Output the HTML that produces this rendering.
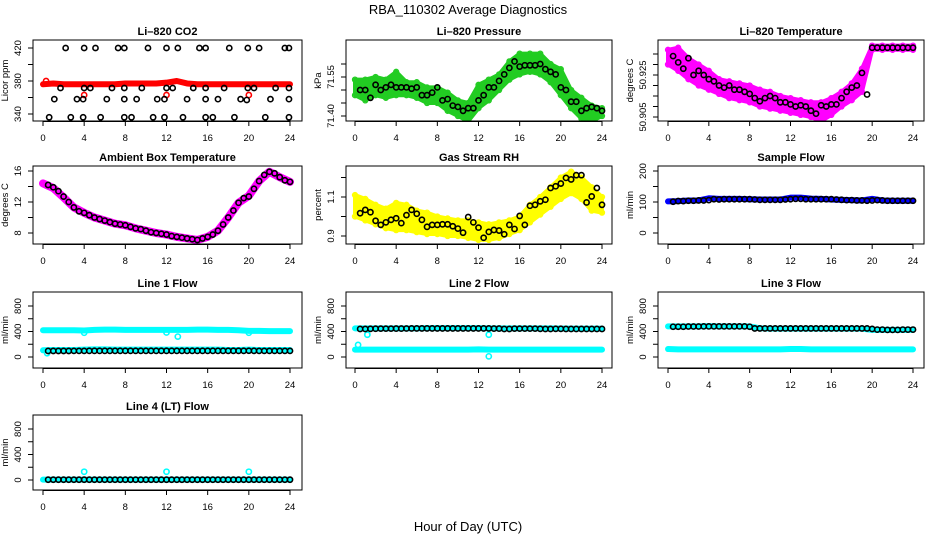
<!DOCTYPE html>
<html><head><meta charset="utf-8">
<style>
html,body{margin:0;padding:0;background:#fff;}
svg{display:block;font-family:"Liberation Sans",Arial,sans-serif;}
</style></head>
<body>
<svg id="chart" width="936" height="540" viewBox="0 0 936 540" xmlns="http://www.w3.org/2000/svg">
<text x="468" y="14" text-anchor="middle" font-size="13">RBA_110302  Average Diagnostics</text>
<text x="468" y="531" text-anchor="middle" font-size="13">Hour of Day (UTC)</text>
</svg>
<script>
// ---------------- data ----------------
const xTicks = [0,4,8,12,16,20,24];
const hourly = [0,1,2,3,4,5,6,7,8,9,10,11,12,13,14,15,16,17,18,19,20,21,22,23,24];
const halfHours = Array.from({length:48},(_, i)=>0.5*(i+1));

// CO2
const co2BlackX = [2.2,4,5.1,7.3,7.9,10.2,12,13.1,15.2,15.8,18.1,19.9,21,23.5,23.9,
 1.7,4,4.6,6.7,7.9,9.6,12,12.6,14.6,15.8,17.6,19.9,20.5,22.6,23.9,
 1.1,3.3,3.9,6.2,7.9,9.1,11.1,11.8,14.0,15.8,17.0,19.2,19.8,22.1,23.9,
 0.6,2.7,3.9,5.6,7.9,8.6,10.7,11.8,13.6,15.8,16.5,18.6,21.6,23.9];
const co2BlackY = [420,420,420,420,420,420,420,420,420,420,420,420,420,420,420,
 371.5,371.5,371.5,371.5,371.5,371.5,371.5,371.5,371.5,371.5,371.5,371.5,371.5,371.5,371.5,
 358,358,358,358,358,358,358,358,358,358,358,358,357,358,358,
 336,336,336,336,336,336,336,336,336,336,336,336,336,336];
const co2Red = [376,377,376,376,376,376,376,376,377,377,377,377,378,380,377,376,376,376,376,376,376,376,376,376,376];
const co2RedOutX = [0.3,4,12,20];
const co2RedOutY = [380,363,363,363];

// Pressure
const presBlack = [71.50,71.50,71.47,71.52,71.50,71.51,71.52,71.51,71.51,71.51,71.505,71.51,71.48,71.48,71.49,71.51,
 71.46,71.465,71.44,71.435,71.42,71.43,71.43,71.46,71.48,71.51,71.51,71.535,71.56,71.585,71.61,71.59,
 71.595,71.595,71.595,71.60,71.58,71.57,71.56,71.51,71.50,71.455,71.455,71.42,71.43,71.435,71.43,71.42];
const presHi = [71.54,71.54,71.55,71.54,71.57,71.53,71.53,71.51,71.51,71.49,71.46,71.45,71.52,71.54,71.56,71.61,71.64,71.64,71.64,71.60,71.58,71.50,71.47,71.44,71.43];
const presLo = [71.48,71.46,71.48,71.47,71.48,71.48,71.47,71.45,71.45,71.42,71.40,71.38,71.43,71.46,71.50,71.54,71.56,71.57,71.56,71.53,71.48,71.43,71.39,71.38,71.40];

// Li-820 temperature
const tempBlack = [50.934,50.931,50.928,50.933,50.925,50.927,50.925,50.923,50.922,50.920,50.919,50.920,50.918,50.918,50.917,50.916,
 50.914,50.9125,50.914,50.915,50.914,50.912,50.912,50.911,50.910,50.9106,50.910,50.908,50.9066,50.9106,50.910,50.911,
 50.911,50.914,50.917,50.919,50.920,50.926,50.9157,50.938,50.938,50.938,50.938,50.938,50.938,50.938,50.938,50.938];
const tempHi = [50.937,50.938,50.933,50.930,50.927,50.923,50.922,50.921,50.920,50.918,50.917,50.915,50.914,50.913,50.912,50.912,50.914,50.917,50.921,50.928,50.939,50.939,50.939,50.939,50.939];
const tempLo = [50.930,50.927,50.923,50.920,50.918,50.916,50.914,50.913,50.912,50.910,50.909,50.908,50.907,50.906,50.905,50.903,50.906,50.910,50.913,50.917,50.937,50.937,50.937,50.937,50.937];

// Ambient box temperature
const ambBlack = [14.2,13.9,13.4,12.7,12.0,11.3,10.8,10.6,10.3,10.0,9.8,9.6,9.4,9.2,9.1,9.0,
 8.8,8.6,8.5,8.3,8.1,8.0,7.9,7.8,7.6,7.5,7.4,7.3,7.2,7.1,7.3,7.5,
 7.8,8.3,9.1,10.0,10.9,11.9,12.5,12.7,13.7,14.7,15.5,15.9,15.7,15.2,14.8,14.6];
const ambMag = [14.4,13.8,12.6,11.3,10.6,10.0,9.6,9.2,9.0,8.6,8.3,8.0,7.8,7.5,7.3,7.1,7.5,8.3,10.0,11.9,12.8,14.7,15.9,15.2,14.6];

// Gas stream RH
const rhBlack = [1.017,1.034,1.022,0.978,0.957,0.97,0.983,0.991,0.966,1.007,1.034,1.014,0.983,0.947,0.957,0.957,
 0.96,0.96,0.95,0.938,0.917,0.997,0.97,0.943,0.891,0.921,0.931,0.928,0.909,0.957,0.936,1.003,
 0.957,1.055,1.06,1.078,1.086,1.146,1.155,1.169,1.198,1.19,1.212,1.212,1.072,1.103,1.146,1.06];
const rhHi = [1.11,1.09,1.06,1.04,1.07,1.06,1.03,1.02,1.00,0.99,0.98,0.98,0.97,0.96,0.97,0.98,1.00,1.06,1.10,1.15,1.20,1.23,1.20,1.15,1.10];
const rhLo = [1.00,0.98,0.96,0.94,0.93,0.93,0.92,0.91,0.91,0.90,0.90,0.89,0.88,0.88,0.89,0.91,0.93,0.97,1.01,1.05,1.09,1.12,1.09,1.03,1.02];

// Sample flow
const sfBlack = [101,103,103,104,104,105,105,106,109,108,109,109,109,109,109,109,108,107,107,107,107,107,108,109,110,110,109,109,109,109,109,109,108,107,106,106,105,105,104,105,106,105,104,104,104,104,104,104];
const sfBlue = [102,103,105,105,112,110,110,110,109,108,108,108,114,114,111,110,108,107,106,105,110,105,104,104,104];

// Line 1
const l1Black = [95,95,95,95,95,96,96,96,97,97,97,97,97,97,97,97,97,97,97,97,97,97,97,97,97,97,97,97,97,97,97,97,97,97,97,97,97,97,97,98,97,96,96,96,96,96,96,96];
const l1Top = [420,420,420,420,415,425,430,430,425,425,425,425,425,425,425,430,430,425,425,420,410,410,405,405,405];
const l1Low = [105,110,110,110,115,120,120,115,115,115,115,115,115,115,115,115,115,115,110,110,115,110,110,110,110];
const l1OutX = [0.4,4,12,13.1,20];
const l1OutY = [60,380,385,320,380];

// Line 2
const l2Black = [440,440,442,444,445,445,445,446,446,447,448,448,448,448,448,448,448,448,448,448,448,448,448,448,448,448,446,446,440,440,445,445,445,445,445,442,440,440,442,442,440,440,440,440,440,440,440,440];
const l2Top = [450,450,450,450,450,450,450,452,452,452,452,452,452,450,450,450,450,450,450,450,448,445,445,445,445];
const l2Low = [115,115,115,115,115,115,115,115,115,115,115,115,120,115,115,115,115,115,115,115,115,115,115,115,115];
const l2OutX = [0.3,1.2,13,13];
const l2OutY = [190,350,350,10];

// Line 3
const l3Black = [475,475,475,478,478,478,480,480,480,480,480,480,480,480,480,475,448,448,448,448,448,448,448,448,448,448,448,448,448,448,448,448,448,448,448,448,448,448,448,440,430,430,425,425,425,430,430,430];
const l3Top = [480,480,480,480,485,480,480,480,480,450,445,445,445,445,445,445,445,445,445,445,425,425,425,425,425];
const l3Low = [125,120,120,120,120,120,120,120,120,120,120,120,125,125,120,120,120,120,120,120,120,120,120,120,120];

// Line 4
const l4Black = [5,5,5,5,5,5,5,5,5,5,5,5,5,5,5,5,5,5,5,5,5,5,5,5,5,5,5,5,5,5,5,5,5,5,5,5,5,5,5,5,5,5,5,5,5,5,5,5];
const l4Low = [5,5,5,5,5,5,5,5,5,5,5,5,5,5,5,5,5,5,5,5,5,5,5,5,5];
const l4OutX = [4,12,20];
const l4OutY = [130,130,130];

// ---------------- drawing ----------------
const svg = document.getElementById('chart');
const NS = 'http://www.w3.org/2000/svg';
function mk(tag, attrs, parent){
  const e = document.createElementNS(NS, tag);
  for (const k in attrs) e.setAttribute(k, attrs[k]);
  (parent||svg).appendChild(e);
  return e;
}
const cols = [{b0:33,b1:302,x0:43,x1:290},{b0:346,b1:612,x0:355,x1:602},{b0:658,b1:924,x0:668,x1:913}];
const rows = [{t:40,b:121},{t:166,b:244},{t:292,b:368},{t:415,b:490}];

function panel(o){
  const c = cols[o.col], r = rows[o.row];
  const g = mk('g', {});
  
  
  const xs = h => c.x0 + (c.x1-c.x0)*h/24;
  const ys = v => o.p1 + (v-o.v1)*(o.p2-o.p1)/(o.v2-o.v1);
  const clip = 'clip-'+o.name;
  const cp = mk('clipPath', {id:clip}, g);
  mk('rect', {x:c.b0, y:r.t, width:c.b1-c.b0, height:r.b-r.t}, cp);
  const plot = mk('g', {'clip-path':'url(#'+clip+')'}, g);
  
  
  const t = mk('text', {x:(c.b0+c.b1)/2, y:r.t-5, 'text-anchor':'middle','font-size':11,'font-weight':'bold'}, g);
  t.textContent = o.title;
  
  
  const box = mk('rect', {x:c.b0, y:r.t, width:c.b1-c.b0, height:r.b-r.t, fill:'none', stroke:'#000','stroke-width':1}, g);
  
  
  const xa = mk('g', {}, g);
  
  
  mk('line', {x1:xs(0), x2:xs(24), y1:r.b+0.5, y2:r.b+0.5, stroke:'#000'}, xa);
  xTicks.forEach(h=>{
    mk('line', {x1:xs(h), x2:xs(h), y1:r.b, y2:r.b+5, stroke:'#000'}, xa);
    if (o.xlabels){
      const tl = mk('text', {x:xs(h), y:r.b+20, 'text-anchor':'middle','font-size':9.5}, xa);
      tl.textContent = h;
      
      
    }
  });
  const ya = mk('g', {}, g);
  
  
  o.yticks.forEach(v=>{
    mk('line', {x1:c.b0-5, x2:c.b0, y1:ys(v), y2:ys(v), stroke:'#000'}, ya);
  });
  o.ylabels.forEach((lab,i)=>{
    const v = o.ylabelVals[i];
    const tx = c.b0-12, ty = ys(v);
    const tl = mk('text', {x:tx, y:ty, 'text-anchor':'middle','font-size':9.5, transform:'rotate(-90 '+tx+' '+ty+')'}, ya);
    tl.textContent = lab;
    
    
  });
  const lx = c.b0-25, ly = (r.t+r.b)/2;
  const yt = mk('text', {x:lx, y:ly, 'text-anchor':'middle','font-size':9.5, transform:'rotate(-90 '+lx+' '+ly+')'}, g);
  yt.textContent = o.ylab;
  
  
  return {plot, xs, ys};
}
function band(P, xsArr, hi, lo, color, name){
  let pts = xsArr.map((h,i)=>P.xs(h)+','+P.ys(hi[i]));
  pts = pts.concat(xsArr.map((h,i)=>P.xs(h)+','+P.ys(lo[i])).reverse());
  const pg = mk('polygon', {points:pts.join(' '), fill:color, stroke:color, 'stroke-width':4, 'stroke-linejoin':'round'}, P.plot);
  
  
  xsArr.forEach((h,i)=>{
    [hi[i],lo[i]].forEach(v=>{
      const c = mk('circle', {cx:P.xs(h), cy:P.ys(v), r:2.5, fill:'none', stroke:color, 'stroke-width':1.3}, P.plot);
      
      
    });
  });
}
function thick(P, xsArr, vals, color, w, name){
  const pl = mk('polyline', {points:xsArr.map((h,i)=>P.xs(h)+','+P.ys(vals[i])).join(' '), fill:'none', stroke:color, 'stroke-width':w, 'stroke-linejoin':'round','stroke-linecap':'round'}, P.plot);
  
  
}
function pts(P, xsArr, vals, color, name, sw){
  xsArr.forEach((h,i)=>{
    const c = mk('circle', {cx:P.xs(h), cy:P.ys(vals[i]), r:2.6, fill:'none', stroke:color, 'stroke-width':sw||1.6}, P.plot);
    
    
  });
}

let P = panel({name:'co2-panel', col:0,row:0,title:'Li\u2013820 CO2', ylab:'Licor ppm', v1:420,p1:48,v2:340,p2:114,
  yticks:[340,360,380,400,420], ylabels:['340','380','420'], ylabelVals:[340,380,420], xlabels:true});
thick(P, hourly, co2Red, '#ff0000', 6, 'co2-red-series');
pts(P, co2RedOutX, co2RedOutY, '#ff0000', 'co2-red-outlier');
pts(P, co2BlackX, co2BlackY, '#000', 'co2-black-point');

P = panel({name:'pressure-panel', col:1,row:0,title:'Li\u2013820 Pressure', ylab:'kPa', v1:71.55,p1:77,v2:71.40,p2:116,
  yticks:[71.40,71.45,71.50,71.55,71.60], ylabels:['71.40','71.55'], ylabelVals:[71.40,71.55], xlabels:true});
band(P, hourly, presHi, presLo, '#22cc22', 'pressure-green-band');
pts(P, halfHours, presBlack, '#000', 'pressure-black-point');

P = panel({name:'temperature-panel', col:2,row:0,title:'Li\u2013820 Temperature', ylab:'degrees C', v1:50.905,p1:117,v2:50.935,p2:54,
  yticks:[50.905,50.910,50.915,50.920,50.925,50.930,50.935], ylabels:['50.905','50.925'], ylabelVals:[50.905,50.925], xlabels:true});
band(P, hourly, tempHi, tempLo, '#ff00ff', 'temperature-magenta-band');
pts(P, halfHours, tempBlack, '#000', 'temperature-black-point');

P = panel({name:'ambient-panel', col:0,row:1,title:'Ambient Box Temperature', ylab:'degrees C', v1:16,p1:171,v2:8,p2:233,
  yticks:[8,10,12,14,16], ylabels:['8','12','16'], ylabelVals:[8,12,16], xlabels:true});
thick(P, hourly, ambMag, '#ff00ff', 8, 'ambient-magenta-series');
pts(P, halfHours, ambBlack, '#000', 'ambient-black-point');

P = panel({name:'rh-panel', col:1,row:1,title:'Gas Stream RH', ylab:'percent', v1:1.1,p1:197,v2:0.9,p2:236,
  yticks:[0.9,1.0,1.1,1.2], ylabels:['0.9','1.1'], ylabelVals:[0.9,1.1], xlabels:true});
band(P, hourly, rhHi, rhLo, '#ffff00', 'rh-yellow-band');
pts(P, halfHours, rhBlack, '#000', 'rh-black-point');

P = panel({name:'sample-flow-panel', col:2,row:1,title:'Sample Flow', ylab:'ml/min', v1:200,p1:171,v2:0,p2:233,
  yticks:[0,50,100,150,200], ylabels:['0','100','200'], ylabelVals:[0,100,200], xlabels:true});
thick(P, hourly, sfBlue, '#0000ff', 6, 'sample-flow-blue-series');
pts(P, halfHours, sfBlack, '#000', 'sample-flow-black-point');

const flowTicks = [0,200,400,600,800];
P = panel({name:'line1-flow-panel', col:0,row:2,title:'Line 1 Flow', ylab:'ml/min', v1:0,p1:357,v2:800,p2:306,
  yticks:flowTicks, ylabels:['0','400','800'], ylabelVals:[0,400,800], xlabels:true});
thick(P, hourly, l1Top, '#00ffff', 6, 'line1-cyan-upper');
thick(P, hourly, l1Low, '#00ffff', 6, 'line1-cyan-lower');
pts(P, l1OutX, l1OutY, '#00ffff', 'line1-cyan-outlier');
pts(P, halfHours, l1Black, '#000', 'line1-black-point');

P = panel({name:'line2-flow-panel', col:1,row:2,title:'Line 2 Flow', ylab:'ml/min', v1:0,p1:357,v2:800,p2:306,
  yticks:flowTicks, ylabels:['0','400','800'], ylabelVals:[0,400,800], xlabels:true});
thick(P, hourly, l2Top, '#00ffff', 6, 'line2-cyan-upper');
thick(P, hourly, l2Low, '#00ffff', 6, 'line2-cyan-lower');
pts(P, l2OutX, l2OutY, '#00ffff', 'line2-cyan-outlier');
pts(P, halfHours, l2Black, '#000', 'line2-black-point');

P = panel({name:'line3-flow-panel', col:2,row:2,title:'Line 3 Flow', ylab:'ml/min', v1:0,p1:357,v2:800,p2:306,
  yticks:flowTicks, ylabels:['0','400','800'], ylabelVals:[0,400,800], xlabels:true});
thick(P, hourly, l3Top, '#00ffff', 6, 'line3-cyan-upper');
thick(P, hourly, l3Low, '#00ffff', 6, 'line3-cyan-lower');
pts(P, halfHours, l3Black, '#000', 'line3-black-point');

P = panel({name:'line4-flow-panel', col:0,row:3,title:'Line 4 (LT) Flow', ylab:'ml/min', v1:0,p1:480,v2:800,p2:429,
  yticks:flowTicks, ylabels:['0','400','800'], ylabelVals:[0,400,800], xlabels:true});
thick(P, hourly, l4Low, '#00ffff', 6, 'line4-cyan-series');
pts(P, l4OutX, l4OutY, '#00ffff', 'line4-cyan-outlier');
pts(P, halfHours, l4Black, '#000', 'line4-black-point');
</script>
</body></html>
